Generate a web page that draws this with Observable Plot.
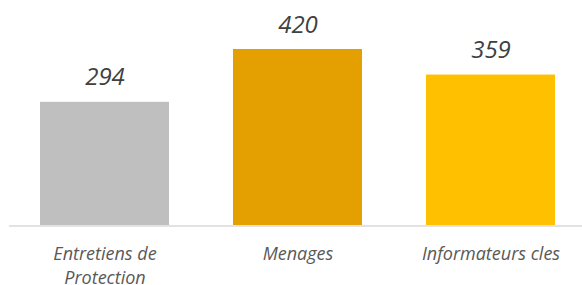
<!DOCTYPE html>
<html>
<head>
<meta charset="utf-8">
<script src="https://cdn.jsdelivr.net/npm/d3@7"></script>
<script src="https://cdn.jsdelivr.net/npm/@observablehq/plot@0.6"></script>
<style>
  html, body { margin: 0; padding: 0; background: #fff; }
  svg { font-family: "Open Sans", sans-serif; }
</style>
</head>
<body>
<div id="chart"></div>
<script>
const categories = ["Entretiens de Protection", "Menages", "Informateurs cles"];
const tickLabels = ["Entretiens de\nProtection", "Menages", "Informateurs cles"];
const values = [294, 420, 359];
const colors = ["#BFBFBF", "#E3A000", "#FFC000"];

const data = categories.map((c, i) => ({cat: c, value: values[i], label: tickLabels[i], color: colors[i]}));

const chart = Plot.plot({
  width: 582,
  height: 285,
  marginLeft: 9,
  marginRight: 0,
  marginTop: 0,
  marginBottom: 0,
  x: {domain: categories, range: [40, 556], paddingInner: 0.33, paddingOuter: 0, axis: null},
  y: {domain: [0, 420], range: [225, 49], axis: null},
  marks: [
    Plot.barY(data, {x: "cat", y: "value", fill: "color"}),
    Plot.ruleY([0], {stroke: "#D9D9D9", strokeWidth: 1.5, dy: 0.5}),
    Plot.text(data, {x: "cat", y: "value", text: d => String(d.value), dy: -17, lineAnchor: "bottom", fontSize: 24, fontStyle: "italic", fill: "#404040"}),
    Plot.text(data, {x: "cat", y: 0, text: "label", dy: 17, lineAnchor: "top", lineHeight: 1.34, fontSize: 18, fontStyle: "italic", fill: "#595959"})
  ]
});
document.getElementById("chart").appendChild(chart);
</script>
</body>
</html>
